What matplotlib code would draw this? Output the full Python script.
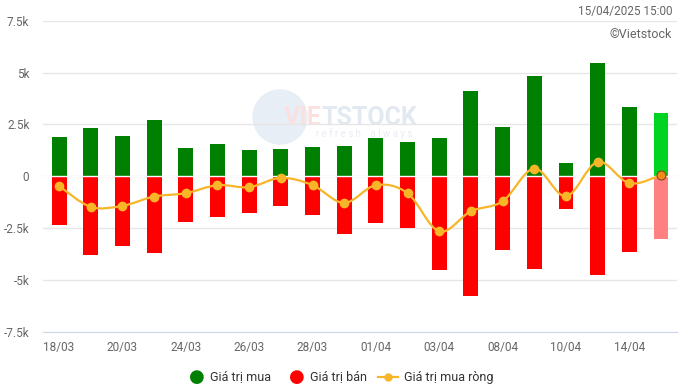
import matplotlib.pyplot as plt
from matplotlib.path import Path
from matplotlib.patches import PathPatch, Circle
import numpy as np

plt.rcParams['font.family'] = ['Roboto', 'DejaVu Sans']

dates = ['18/03', '19/03', '20/03', '21/03', '24/03', '25/03', '26/03', '27/03',
         '28/03', '31/03', '01/04', '02/04', '03/04', '04/04', '08/04', '09/04',
         '10/04', '11/04', '14/04', '15/04']
buy = [1.90, 2.33, 1.95, 2.72, 1.37, 1.56, 1.27, 1.32, 1.42, 1.46,
       1.85, 1.66, 1.85, 4.12, 2.38, 4.83, 0.64, 5.47, 3.35, 3.06]
sell = [-2.37, -3.82, -3.38, -3.72, -2.22, -1.98, -1.79, -1.45, -1.88, -2.80,
        -2.25, -2.50, -4.53, -5.80, -3.57, -4.49, -1.58, -4.78, -3.66, -3.03]
net = [-0.47, -1.48, -1.43, -0.98, -0.82, -0.43, -0.53, -0.08, -0.43, -1.29,
       -0.43, -0.82, -2.66, -1.69, -1.21, 0.37, -0.97, 0.69, -0.34, 0.05]

yticks = [-7.5, -5, -2.5, 0, 2.5, 5, 7.5]
ytick_labels = ['-7.5k', '-5k', '-2.5k', '0', '2.5k', '5k', '7.5k']

green, green_last = '#008000', '#00d423'
red, red_last = '#ff0000', '#ff8080'
orange = '#f7b528'

fig = plt.figure(figsize=(6.83, 3.91), dpi=100)

# watermark layer behind the chart
wm = fig.add_axes([0, 0, 1, 1])
wm.set_xlim(0, 683)
wm.set_ylim(391, 0)
wm.axis('off')
wm.add_patch(Circle((280, 117), 27, color='#e8eef6', zorder=0))
vie = wm.text(284, 118, 'VIE', color='#fbe0e0', fontsize=18, fontweight='bold',
              va='center', zorder=2)
wm.annotate('TSTOCK', xy=(1, 0.5), xycoords=vie, va='center', ha='left',
            color='#e3e9f1', fontsize=18, fontweight='bold', zorder=1)
wm.text(316, 134, 'r e f r e s h    a l w a y s', color='#e8ecf2', fontsize=7, va='center')

ax = fig.add_axes([0.0633, 0.1517, 0.9277, 0.7953])
ax.patch.set_alpha(0)

x = np.arange(len(dates))
buy_colors = [green] * (len(x) - 1) + [green_last]
sell_colors = [red] * (len(x) - 1) + [red_last]
ax.bar(x, buy, width=0.47, color=buy_colors, zorder=3)
ax.bar(x, sell, width=0.47, color=sell_colors, zorder=3)

# smooth spline through net values (bezier segments)
verts = [(x[0], net[0])]
codes = [Path.MOVETO]
t = 1 / 3.0
for i in range(len(x) - 1):
    p0 = np.array([x[max(i - 1, 0)], net[max(i - 1, 0)]])
    p1 = np.array([x[i], net[i]])
    p2 = np.array([x[i + 1], net[i + 1]])
    p3 = np.array([x[min(i + 2, len(x) - 1)], net[min(i + 2, len(x) - 1)]])
    c1 = p1 + (p2 - p0) * t / 2
    c2 = p2 - (p3 - p1) * t / 2
    verts += [tuple(c1), tuple(c2), tuple(p2)]
    codes += [Path.CURVE4] * 3
ax.add_patch(PathPatch(Path(verts, codes), facecolor='none', edgecolor=orange,
                       lw=1.6, zorder=4))
ax.plot(x[:-1], net[:-1], 'o', color=orange, ms=6, zorder=5)
ax.plot(x[-1:], net[-1:], 'o', color='#f08a1c', mec='#8a4a10', mew=0.8, ms=6.5, zorder=5)

ax.set_xlim(-0.5, len(x) - 0.5)
ax.set_ylim(-7.5, 7.5)
ax.set_yticks(yticks)
ax.set_yticklabels(ytick_labels)
ax.set_xticks(x[::2])
ax.set_xticklabels(dates[::2])
ax.tick_params(axis='y', length=0, pad=10, labelsize=8.5, labelcolor='#666666')
ax.tick_params(axis='x', length=0, pad=7, labelsize=8.5, labelcolor='#666666')
ax.grid(axis='y', color='#e6e6e6', lw=1, zorder=0)
for s in ['top', 'right', 'left']:
    ax.spines[s].set_visible(False)
ax.spines['bottom'].set_color('#ccd6eb')
ax.axhline(0, color='white', lw=1, zorder=3.5)

fig.text(672 / 683, 1 - 11 / 391, '15/04/2025 15:00', ha='right', va='center',
         fontsize=8.5, color='#666666')
fig.text(672 / 683, 1 - 35 / 391, '\u00a9Vietstock', ha='right', va='center',
         fontsize=9, color='#666666')

# legend
ly = 1 - 377 / 391
fig.text(197 / 683, ly, '\u25cf', color=green, fontsize=13, ha='center', va='center')
fig.text(210 / 683, ly, 'Giá trị mua', color='#333333', fontsize=9, va='center')
fig.text(297 / 683, ly, '\u25cf', color=red, fontsize=13, ha='center', va='center')
fig.text(310 / 683, ly, 'Giá trị bán', color='#333333', fontsize=9, va='center')
fig.lines.append(plt.Line2D([378 / 683, 398 / 683], [ly, ly], color=orange, lw=1.6,
                            transform=fig.transFigure))
fig.lines.append(plt.Line2D([388 / 683], [ly], color=orange, marker='o', ms=5,
                            transform=fig.transFigure))
fig.text(404 / 683, ly, 'Giá trị mua ròng', color='#333333', fontsize=9, va='center')

fig.savefig('out.png', dpi=100)
